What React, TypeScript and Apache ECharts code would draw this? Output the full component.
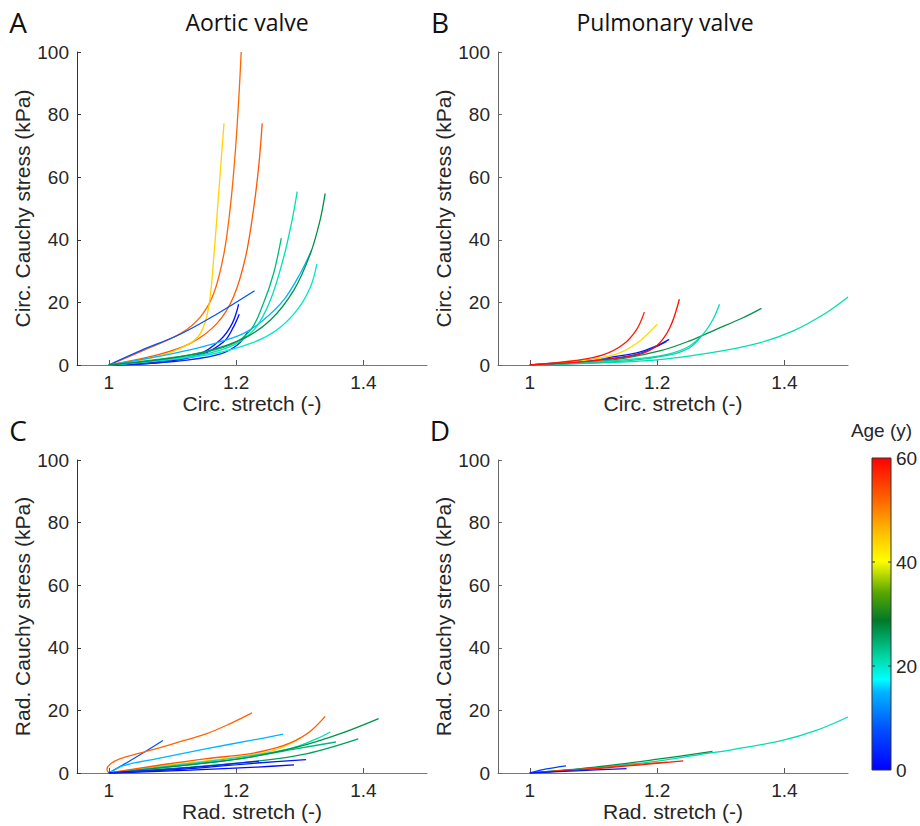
import React, { useEffect, useRef } from "react";
import * as echarts from "echarts";

// ---------- DATA (stretch, Cauchy stress kPa), age in years ----------
type Curve = { age: number; pts: number[][] };

const aorticCirc: Curve[] = [
  { age: 52, pts: [[1, 0], [1.05, 4.3], [1.113, 10.1], [1.144, 15.4], [1.165, 22.9], [1.181, 35.7], [1.191, 50.6], [1.199, 68.7], [1.205, 87.9], [1.208, 100]] },
  { age: 53, pts: [[1, 0], [1.076, 3.2], [1.128, 6.9], [1.17, 13.3], [1.196, 21.8], [1.215, 34.6], [1.228, 50.6], [1.236, 64.4], [1.241, 77.2]] },
  { age: 44, pts: [[1, 0], [1.076, 2.7], [1.123, 6.4], [1.144, 10.1], [1.157, 18.6], [1.165, 34.6], [1.173, 55.9], [1.181, 77.2]] },
  { age: 8, pts: [[1, 0], [1.05, 4.6], [1.113, 9.9], [1.17, 16.3], [1.229, 23.7]] },
  { age: 2, pts: [[1, 0], [1.076, 1.1], [1.139, 3.2], [1.175, 8.0], [1.194, 13.3], [1.204, 19.4]] },
  { age: 1, pts: [[1, 0], [1.076, 0.7], [1.144, 3.2], [1.181, 7.5], [1.196, 12.2], [1.205, 16.2]] },
  { age: 3, pts: [[1, 0], [1.102, 1.1], [1.17, 3.2], [1.202, 6.4], [1.218, 10.5]] },
  { age: 15, pts: [[1, 0], [1.102, 3.7], [1.17, 7.1], [1.212, 10.1], [1.243, 14.4], [1.275, 20.8], [1.301, 29.3], [1.318, 36.4]] },
  { age: 21, pts: [[1, 0], [1.128, 2.7], [1.191, 5.9], [1.228, 11.2], [1.254, 20.8], [1.275, 34.6], [1.288, 46.3], [1.296, 55.4]] },
  { age: 20, pts: [[1, 0], [1.154, 3.2], [1.223, 6.9], [1.264, 11.2], [1.296, 17.6], [1.317, 25.0], [1.327, 32.3]] },
  { age: 24, pts: [[1, 0], [1.128, 3.2], [1.191, 6.4], [1.223, 11.2], [1.243, 19.7], [1.259, 29.3], [1.271, 40.5]] },
  { age: 27, pts: [[1, 0], [1.128, 3.2], [1.207, 8.0], [1.254, 14.4], [1.291, 24.0], [1.317, 35.7], [1.332, 46.3], [1.34, 54.8]] },
];

const pulmCirc: Curve[] = [
  { age: 21, pts: [[1, 0], [1.178, 1.3], [1.283, 3.9], [1.361, 7.1], [1.414, 10.9], [1.466, 16.7], [1.5, 21.7]] },
  { age: 27, pts: [[1, 0], [1.126, 1.5], [1.204, 4.5], [1.251, 7.7], [1.293, 11.4], [1.335, 15.1], [1.364, 18.1]] },
  { age: 21, pts: [[1, 0], [1.126, 1.3], [1.204, 2.9], [1.246, 5.5], [1.272, 9.8], [1.288, 14.6], [1.298, 19.4]] },
  { age: 22, pts: [[1, 0], [1.152, 1.3], [1.22, 3.2], [1.251, 5.5], [1.27, 9.3]] },
  { age: 2, pts: [[1, 0], [1.099, 1.8], [1.168, 3.9], [1.199, 6.1], [1.219, 8.2]] },
  { age: 4, pts: [[1, 0], [1.099, 1.5], [1.168, 3.4], [1.215, 7.5]] },
  { age: 43, pts: [[1, 0], [1.099, 1.8], [1.141, 3.9], [1.173, 7.7], [1.2, 13.0]] },
  { age: 58, pts: [[1, 0], [1.073, 1.5], [1.115, 3.2], [1.147, 6.6], [1.168, 11.4], [1.18, 16.9]] },
  { age: 59, pts: [[1, 0], [1.099, 1.3], [1.168, 3.2], [1.199, 6.1], [1.22, 11.9], [1.235, 21.0]] },
];

const aorticRad: Curve[] = [
  { age: 8, pts: [[1, 0], [1.034, 4.0], [1.06, 7.2], [1.085, 10.4]] },
  { age: 52, pts: [[1, 0], [0.997, 1.1], [1.002, 2.8], [1.018, 4.6], [1.05, 6.4], [1.102, 9.4], [1.154, 12.6], [1.191, 15.8], [1.225, 19.2]] },
  { age: 15, pts: [[1, 0], [1.024, 2.4], [1.076, 4.6], [1.154, 7.8], [1.223, 10.4], [1.274, 12.4]] },
  { age: 44, pts: [[1, 0], [1.076, 2.1], [1.181, 4.6], [1.259, 7.2], [1.302, 11.3]] },
  { age: 21, pts: [[1, 0], [1.102, 2.4], [1.207, 5.1], [1.285, 7.8], [1.327, 11.0], [1.348, 13.1]] },
  { age: 24, pts: [[1, 0], [1.102, 2.1], [1.207, 4.6], [1.296, 7.8], [1.357, 9.9]] },
  { age: 27, pts: [[1, 0], [1.102, 2.1], [1.207, 4.6], [1.296, 8.3], [1.364, 12.6], [1.424, 17.4]] },
  { age: 26, pts: [[1, 0], [1.128, 1.9], [1.233, 3.8], [1.312, 6.2], [1.392, 10.9]] },
  { age: 53, pts: [[1, 0], [1.076, 2.4], [1.154, 4.6], [1.223, 6.2], [1.275, 8.8], [1.312, 12.6], [1.34, 18.1]] },
  { age: 2, pts: [[1, 0], [1.128, 1.4], [1.233, 3.2], [1.31, 4.3]] },
  { age: 1, pts: [[1, 0], [1.128, 0.9], [1.233, 1.9], [1.291, 2.6]] },
  { age: 3, pts: [[1, 0], [1.128, 1.7], [1.236, 3.8]] },
];

const pulmRad: Curve[] = [
  { age: 21, pts: [[1, 0], [1.099, 1.6], [1.204, 3.9], [1.267, 5.9], [1.319, 7.5], [1.397, 10.4], [1.45, 13.6], [1.5, 17.9]] },
  { age: 27, pts: [[1, 0], [1.099, 1.8], [1.204, 4.5], [1.287, 6.9]] },
  { age: 53, pts: [[1, 0], [1.099, 1.5], [1.178, 2.9], [1.215, 3.5]] },
  { age: 58, pts: [[1, 0], [1.099, 1.3], [1.178, 2.7], [1.241, 3.9]] },
  { age: 6, pts: [[1, 0], [1.026, 1.3], [1.057, 2.3]] },
  { age: 2, pts: [[1, 0], [1.073, 0.7], [1.152, 1.4]] },
];

const xTicks = [1, 1.2, 1.4];
const ageTicks = [0, 20, 40, 60];
const panelTitles = ["Aortic valve", "Pulmonary valve"];
const panelLetters = ["A", "B", "C", "D"];
const xNames = ["Circ. stretch (-)", "Circ. stretch (-)", "Rad. stretch (-)", "Rad. stretch (-)"];
const yNames = ["Circ. Cauchy stress (kPa)", "Circ. Cauchy stress (kPa)", "Rad. Cauchy stress (kPa)", "Rad. Cauchy stress (kPa)"];

// ---------- colormap ----------
const cmap: [number, string][] = [
  [0, "#0000ff"], [0.13, "#0050ff"], [0.25, "#00b4ff"], [0.29, "#00ffff"], [0.36, "#00d8a8"],
  [0.48, "#007a28"], [0.57, "#5aa800"], [0.67, "#ffff00"], [0.76, "#ffbf00"], [0.86, "#ff6a00"], [1, "#ff0000"],
];
const hex = (h: string) => [1, 3, 5].map((i) => parseInt(h.slice(i, i + 2), 16));
function ageColor(age: number) {
  const t = Math.max(0, Math.min(1, age / 60));
  for (let i = 1; i < cmap.length; i++) {
    if (t <= cmap[i][0]) {
      const [t0, c0] = cmap[i - 1];
      const [t1, c1] = cmap[i];
      const f = (t - t0) / (t1 - t0);
      const a = hex(c0), b = hex(c1);
      const c = a.map((v, k) => Math.round(v + (b[k] - v) * f));
      return `rgb(${c[0]},${c[1]},${c[2]})`;
    }
  }
  return cmap[cmap.length - 1][1];
}

const FONT = "'Liberation Sans', Arial, sans-serif";
const TFONT = "'Open Sans', sans-serif";
const TXT = "#262626";

export default function App() {
  const ref = useRef<HTMLDivElement>(null);
  useEffect(() => {
    if (!ref.current) return;
    const chart = echarts.init(ref.current, undefined, { renderer: "svg" });
    const grids = [
      { left: 77, top: 52, width: 350, height: 313 },
      { left: 498, top: 52, width: 350, height: 313 },
      { left: 77, top: 460, width: 350, height: 313 },
      { left: 498, top: 460, width: 350, height: 313 },
    ];
    const panels = [aorticCirc, pulmCirc, aorticRad, pulmRad];
    const axisColor = ["#333", "#666", "#333", "#666"];

    const xAxis = grids.map((_, i) => ({
      type: "value",
      gridIndex: i,
      min: 0.95,
      max: 1.5,
      name: xNames[i],
      nameLocation: "middle",
      nameGap: 27,
      nameTextStyle: { fontFamily: FONT, fontSize: 21, color: TXT },
      axisLine: { show: true, onZero: false, lineStyle: { color: "#777", width: 1 } },
      axisTick: { show: true, inside: true, length: 5, customValues: xTicks, lineStyle: { color: "#555" } },
      axisLabel: { show: true, customValues: xTicks, margin: 8, fontFamily: FONT, fontSize: 19, color: TXT, formatter: (v: number) => String(v) },
      splitLine: { show: false },
    }));
    const yAxis = grids.map((_, i) => ({
      type: "value",
      gridIndex: i,
      min: 0,
      max: 100,
      interval: 20,
      name: yNames[i],
      nameLocation: "middle",
      nameGap: 44,
      nameRotate: 90,
      nameTextStyle: { fontFamily: FONT, fontSize: 21, color: TXT },
      axisLine: { show: true, onZero: false, lineStyle: { color: axisColor[i], width: 1 } },
      axisTick: { show: true, inside: true, length: 4, lineStyle: { color: axisColor[i] } },
      axisLabel: { show: true, margin: 8, fontFamily: FONT, fontSize: 19, color: TXT },
      splitLine: { show: false },
    }));

    const series: any[] = [];
    panels.forEach((curves, i) => {
      curves.forEach((c) => {
        series.push({
          type: "line",
          xAxisIndex: i,
          yAxisIndex: i,
          data: c.pts,
          showSymbol: false,
          smooth: 0.35,
          silent: true,
          lineStyle: { color: ageColor(c.age), width: 1.3 },
          z: 2,
        });
      });
    });

    // colorbar
    const cb = { x: 872, y: 458, w: 19, h: 312 };
    const gradStops = cmap.map(([o, c]) => ({ offset: 1 - o, color: c })).reverse();
    const graphic: any[] = [
      {
        type: "rect",
        shape: { x: cb.x, y: cb.y, width: cb.w, height: cb.h },
        style: {
          fill: { type: "linear", x: 0, y: 0, x2: 0, y2: 1, colorStops: gradStops },
          stroke: "#333",
          lineWidth: 1,
        },
      },
      {
        type: "text",
        x: cb.x + cb.w / 2,
        y: 430,
        style: { text: "Age (y)", fontFamily: FONT, fontSize: 19, fill: TXT, align: "center", verticalAlign: "middle" },
      },
    ];
    ageTicks.forEach((a) => {
      const yy = cb.y + cb.h - (a / 60) * cb.h;
      graphic.push({
        type: "text",
        x: cb.x + cb.w + 5,
        y: yy,
        style: { text: String(a), fontFamily: FONT, fontSize: 19, fill: TXT, align: "left", verticalAlign: "middle" },
      });
      if (a !== 0 && a !== 60) {
        graphic.push({ type: "line", shape: { x1: cb.x + cb.w - 3, y1: yy, x2: cb.x + cb.w, y2: yy }, style: { stroke: "#333", lineWidth: 1 } });
        graphic.push({ type: "line", shape: { x1: cb.x, y1: yy, x2: cb.x + 3, y2: yy }, style: { stroke: "#333", lineWidth: 1 } });
      }
    });
    const letterPos = [[18, 22], [440, 22], [18, 430], [440, 430]];
    panelLetters.forEach((L, i) => {
      graphic.push({
        type: "text",
        x: letterPos[i][0],
        y: letterPos[i][1],
        style: { text: L, fontFamily: TFONT, fontSize: 28, fill: "#111", align: "center", verticalAlign: "middle" },
      });
    });
    panelTitles.forEach((t, i) => {
      graphic.push({
        type: "text",
        x: i === 0 ? 247 : 665,
        y: 22,
        style: { text: t, fontFamily: TFONT, fontSize: 23, fill: "#111", align: "center", verticalAlign: "middle" },
      });
    });

    chart.setOption({
      animation: false,
      backgroundColor: "#ffffff",
      grid: grids,
      xAxis,
      yAxis,
      series,
      graphic,
    });
    return () => chart.dispose();
  }, []);
  return (
    <div
      ref={ref}
      style={{ position: "absolute", left: 0, top: 0, width: 920, height: 826, background: "#fff" }}
    />
  );
}
